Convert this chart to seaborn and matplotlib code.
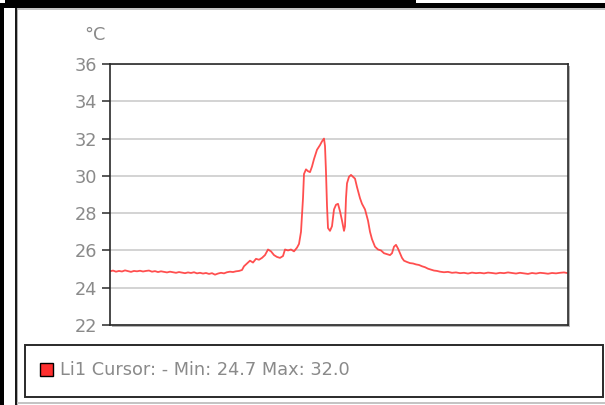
import matplotlib
matplotlib.use("Agg")
import matplotlib.pyplot as plt
from matplotlib.patches import Rectangle
import pandas as pd
import seaborn as sns

# Temperature trace of channel Li1 (time in samples, temperature in °C)
time_s = [
    0, 3, 6, 9, 12, 15, 18, 21, 24, 27, 30, 33, 36, 39, 42, 45, 48, 51, 54, 57,
    60, 63, 66, 69, 72, 75, 78, 81, 84, 87, 90, 93, 96, 99, 102, 105, 108, 111,
    114, 117, 120, 123, 126, 129,
    132, 134, 137, 140, 143, 146, 149, 152, 155, 158, 161, 164, 167, 170, 173,
    175, 178, 181, 184, 187, 189, 191, 193, 194, 196, 198, 200, 202, 204, 207,
    210, 212, 214, 215, 216, 217, 218, 220, 222, 224, 226, 228, 230, 232, 234,
    235, 236, 237, 239, 241, 243, 245, 247, 250, 252, 255, 258, 260, 262, 265,
    268, 271, 274, 277, 280, 282, 284, 286, 288, 290, 292, 294, 297, 300, 303,
    306, 309, 312, 315, 318, 321, 324, 327, 330, 334, 338, 342, 346, 350, 354,
    358, 362, 366, 370, 374, 378, 382, 386, 390, 394, 398, 402, 406, 410, 414,
    418, 422, 426, 430, 434, 438, 442, 446, 450, 454, 457,
]
temp_c = [
    24.88, 24.92, 24.86, 24.90, 24.87, 24.93, 24.89, 24.85, 24.90, 24.88,
    24.91, 24.87, 24.90, 24.92, 24.86, 24.89, 24.84, 24.88, 24.85, 24.82,
    24.86, 24.83, 24.80, 24.84, 24.81, 24.78, 24.82, 24.79, 24.83, 24.77,
    24.80, 24.76, 24.79, 24.74, 24.78, 24.70, 24.76, 24.80, 24.77, 24.83,
    24.86, 24.84, 24.88, 24.90,
    24.95, 25.15, 25.30, 25.45, 25.35, 25.55, 25.50, 25.60, 25.75, 26.05,
    25.95, 25.75, 25.65, 25.60, 25.70, 26.05, 26.00, 26.05, 25.95, 26.15,
    26.35, 27.00, 28.80, 30.10, 30.35, 30.25, 30.20, 30.50, 30.90, 31.40,
    31.65, 31.85, 32.00, 31.60, 30.20, 28.40, 27.20, 27.05, 27.30, 28.20,
    28.45, 28.50, 28.10, 27.60, 27.05, 27.30, 28.80, 29.60, 29.95, 30.05,
    29.95, 29.85, 29.40, 28.80, 28.50, 28.20, 27.60, 27.00, 26.60, 26.20,
    26.05, 26.00, 25.85, 25.80, 25.75, 25.85, 26.20, 26.30, 26.10, 25.85,
    25.60, 25.45, 25.38, 25.32, 25.30, 25.25, 25.22, 25.15, 25.10, 25.02,
    24.97, 24.92, 24.90, 24.86, 24.83, 24.85, 24.80, 24.82, 24.78, 24.80,
    24.76, 24.81, 24.78, 24.80, 24.77, 24.81, 24.79, 24.76, 24.80, 24.78,
    24.82, 24.79, 24.76, 24.80, 24.77, 24.74, 24.79, 24.76, 24.80, 24.78,
    24.75, 24.79, 24.77, 24.80, 24.82, 24.79,
]
y_ticks = [22, 24, 26, 28, 30, 32, 34, 36]
unit_label = "°C"
series_name = "Li1"

W, H = 605, 405
sns.set_theme(style="white")
plt.rcParams["font.family"] = ["DejaVu Sans"]

LABEL_GRAY = "#8a8a8a"
FRAME = "#2a2a2a"
TRACE = "#ff3c3c"

fig = plt.figure(figsize=(W / 100, H / 100), dpi=100)
fig.patch.set_facecolor("white")


def px_rect(x0, y0, x1, y1, **kw):
    """Rectangle given in pixel coordinates measured from the top-left corner."""
    r = Rectangle((x0 / W, 1 - y1 / H), (x1 - x0) / W, (y1 - y0) / H,
                  transform=fig.transFigure, **kw)
    fig.add_artist(r)
    return r


# window chrome around the panel
px_rect(5, 0, 416, 2.5, facecolor="black", edgecolor="none")
px_rect(0, 3, W, 8, facecolor="black", edgecolor="none")
px_rect(0, 3, 4, H, facecolor="black", edgecolor="none")
px_rect(17, 8, W, 10, facecolor="#c4c4c4", edgecolor="none")
px_rect(15, 8, 16.5, H, facecolor="#1a1a1a", edgecolor="none")
px_rect(16.5, 8, 17.5, H, facecolor="#b0b0b0", edgecolor="none")
px_rect(17, 402, W, 404, facecolor="#c4c4c4", edgecolor="none")

# soft shadow behind the plot frame
px_rect(112, 66, 570, 327, facecolor="#b4b4b4", edgecolor="none", zorder=-1)

ax = fig.add_axes([110 / W, 1 - 325 / H, 458 / W, 261 / H])
ax.set_facecolor("white")
df = pd.DataFrame({"t": time_s, "temp": temp_c})
sns.lineplot(data=df, x="t", y="temp", ax=ax, color=TRACE,
             linewidth=1.3, alpha=0.9)

ax.set_xlim(0, 458)
ax.set_ylim(22, 36)
ax.set_yticks(y_ticks)
ax.set_xticks([])
ax.set_xlabel("")
ax.set_ylabel("")
ax.yaxis.grid(True, color="#c8c8c8", linewidth=1.1)
ax.xaxis.grid(False)
ax.set_axisbelow(True)
for s in ax.spines.values():
    s.set_visible(True)
    s.set_color(FRAME)
    s.set_linewidth(1.2)
ax.tick_params(axis="y", direction="out", left=True, length=6, width=1.1,
               color=FRAME, labelcolor=LABEL_GRAY, labelsize=12.8, pad=3.5)

fig.text(95 / W, 1 - 35 / H, unit_label, color=LABEL_GRAY, fontsize=12.8,
         ha="center", va="center")

# legend box with the cursor readout
px_rect(25.5, 344.5, 602.5, 396.5, facecolor="white", edgecolor=FRAME,
        linewidth=1.4)
px_rect(40, 363, 53, 376, facecolor="#ff3030", edgecolor="black", linewidth=1.0)
readout = (f"{series_name} Cursor: - Min: {min(temp_c):.1f} "
           f"Max: {max(temp_c):.1f}")
fig.text(60 / W, 1 - 370 / H, readout, color=LABEL_GRAY, fontsize=12.8,
         ha="left", va="center")

fig.savefig("out.png", dpi=100, facecolor="white")
